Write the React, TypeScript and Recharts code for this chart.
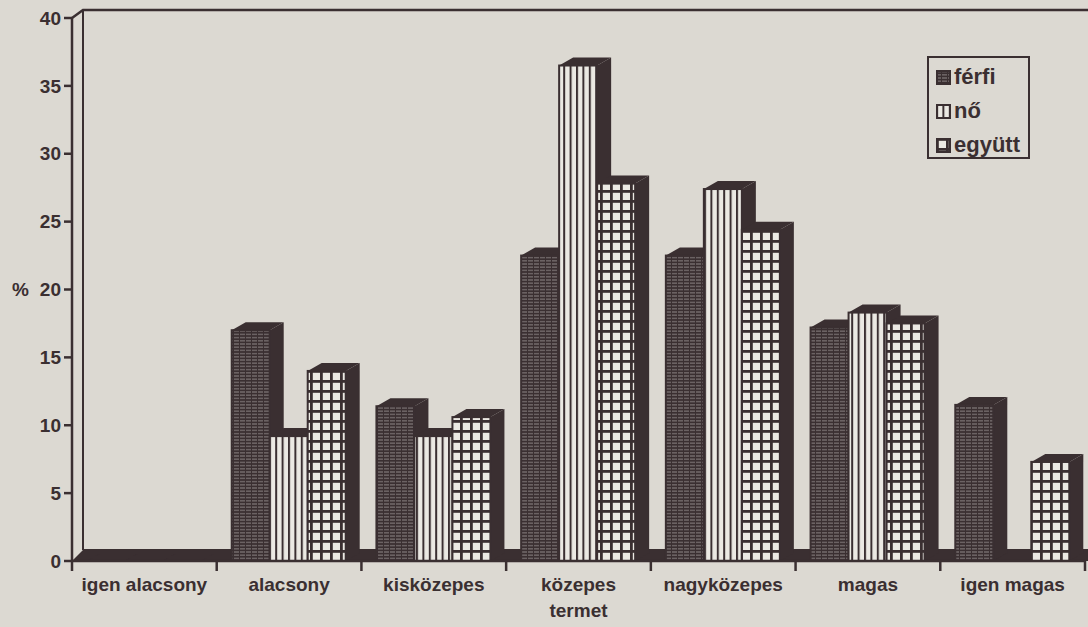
import { BarChart, Bar, XAxis, YAxis, Legend, Label } from 'recharts'

// ─── Data ─────────────────────────────────────────────────────────────────────

const categories = ['igen alacsony', 'alacsony', 'kisközepes', 'közepes', 'nagyközepes', 'magas', 'igen magas']
const ferfi  = [0, 17.0, 11.4, 22.5, 22.5, 17.2, 11.5]
const no     = [0, 9.2, 9.2, 36.5, 27.4, 18.3, 0]
const egyutt = [0, 14.0, 10.6, 27.8, 24.4, 17.5, 7.3]
const yTicks = [0, 5, 10, 15, 20, 25, 30, 35, 40]

const series = [
  { key: 'ferfi',  name: 'férfi',  pattern: 'pat-ferfi' },
  { key: 'no',     name: 'nő',     pattern: 'pat-no' },
  { key: 'egyutt', name: 'együtt', pattern: 'pat-egyutt' },
]

const data = categories.map((label, i) => ({
  label,
  ferfi:  ferfi[i],
  no:     no[i],
  egyutt: egyutt[i],
}))

// ─── Look ─────────────────────────────────────────────────────────────────────

const PAPER = '#dcd9d2'
const LIGHT = '#ebe9e3'
const INK   = '#3a2f31'
const FONT  = '"Liberation Sans", Arial, sans-serif'

const W = 1088
const H = 627
const PLOT_LEFT   = 72
const PLOT_RIGHT  = 1085
const PLOT_TOP    = 18
const PLOT_BOTTOM = 561
const BAND = (PLOT_RIGHT - PLOT_LEFT) / categories.length

const DX = 14 // 3d depth
const DY = 8

const TEXT_STYLE = { fill: INK, fontSize: 19, fontWeight: 'bold', fontFamily: FONT }

function Bar3D(props: any) {
  const { x, y, width, height, pattern } = props
  if (x == null || y == null) return null
  const w = width
  const h = Math.max(0, height)
  const top = `${x},${y} ${x + DX},${y - DY} ${x + w + DX},${y - DY} ${x + w},${y}`
  const side = `${x + w},${y} ${x + w + DX},${y - DY} ${x + w + DX},${y + h - DY} ${x + w},${y + h}`
  return (
    <g>
      <polygon points={top} fill={INK} />
      <polygon points={side} fill={INK} />
      {h > 0 && (
        <rect x={x} y={y} width={w} height={h} fill={`url(#${pattern})`} stroke={INK} strokeWidth={2} />
      )}
    </g>
  )
}

function CategoryTick(props: any) {
  const { x, payload, index } = props
  return (
    <g>
      {index === 0 && (
        <line x1={x - BAND / 2} y1={PLOT_BOTTOM} x2={x - BAND / 2} y2={PLOT_BOTTOM + 10} stroke={INK} strokeWidth={2.5} />
      )}
      <line x1={x + BAND / 2} y1={PLOT_BOTTOM} x2={x + BAND / 2} y2={PLOT_BOTTOM + 10} stroke={INK} strokeWidth={2.5} />
      <text x={x} y={PLOT_BOTTOM + 30} textAnchor="middle" {...TEXT_STYLE}>
        {payload.value}
      </text>
    </g>
  )
}

function LegendBox() {
  return (
    <div style={{
      boxSizing: 'border-box',
      width: 103,
      height: 103,
      border: `2px solid ${INK}`,
      background: PAPER,
      padding: '2px 0 0 7px',
      fontFamily: FONT,
      fontWeight: 'bold',
      fontSize: 22,
      color: INK,
      lineHeight: '34px',
    }}>
      {series.map(s => (
        <div key={s.key} style={{ display: 'flex', alignItems: 'center' }}>
          <svg width={15} height={15} style={{ marginRight: 3 }}>
            <rect x={1} y={1} width={13} height={13} fill={`url(#${s.pattern})`} stroke={INK} strokeWidth={2} />
          </svg>
          {s.name}
        </div>
      ))}
    </div>
  )
}

export default function App() {
  return (
    <div style={{ position: 'fixed', left: 0, top: 0, width: W, height: H, background: PAPER, overflow: 'hidden' }}>
      {/* back wall, floor and fill patterns */}
      <svg width={W} height={H} style={{ position: 'absolute', left: 0, top: 0 }}>
        <defs>
          <pattern id="pat-ferfi" patternUnits="userSpaceOnUse" width={6} height={3.2}>
            <rect width={6} height={3.2} fill={INK} />
            <rect x={0} y={1.2} width={5} height={0.8} fill={LIGHT} opacity={0.55} />
          </pattern>
          <pattern id="pat-no" patternUnits="userSpaceOnUse" width={6.4} height={10}>
            <rect width={6.4} height={10} fill={LIGHT} />
            <rect x={0} y={0} width={2} height={10} fill={INK} />
          </pattern>
          <pattern id="pat-egyutt" patternUnits="userSpaceOnUse" width={10} height={10}>
            <rect width={10} height={10} fill={LIGHT} />
            <rect x={0} y={0} width={2.8} height={10} fill={INK} />
            <rect x={0} y={0} width={10} height={2.8} fill={INK} />
          </pattern>
        </defs>
        <line x1={83} y1={10} x2={83} y2={550} stroke={INK} strokeWidth={2} />
        <polyline points={`${PLOT_LEFT},${PLOT_TOP} 83,10 ${W},10`} fill="none" stroke={INK} strokeWidth={2.5} />
        <polygon points={`${PLOT_LEFT},${PLOT_BOTTOM} 84,549 ${W},549 ${W},${PLOT_BOTTOM}`} fill={INK} />
      </svg>

      <div style={{ position: 'absolute', left: 0, top: 0 }}>
        <BarChart
          width={W}
          height={H}
          data={data}
          margin={{ top: PLOT_TOP, right: W - PLOT_RIGHT, bottom: 10, left: 12 }}
          barGap={0}
          barSize={38}
        >
          <XAxis
            dataKey="label"
            height={56}
            interval={0}
            tick={<CategoryTick />}
            tickLine={false}
            axisLine={{ stroke: INK, strokeWidth: 2.5 }}
          >
            <Label value="termet" position="insideBottom" offset={0} style={TEXT_STYLE} />
          </XAxis>
          <YAxis
            width={60}
            domain={[0, 40]}
            ticks={yTicks}
            interval={0}
            tickSize={8}
            tickMargin={3}
            axisLine={{ stroke: INK, strokeWidth: 2.5 }}
            tickLine={{ stroke: INK, strokeWidth: 2.5 }}
            tick={TEXT_STYLE}
          >
            <Label value="%" position="insideLeft" offset={0} style={TEXT_STYLE} />
          </YAxis>
          <Legend
            layout="horizontal"
            verticalAlign="middle"
            align="center"
            content={() => <LegendBox />}
            wrapperStyle={{ position: 'absolute', left: 927, top: 56, width: 'auto' }}
          />
          {series.map(s => (
            <Bar
              key={s.key}
              dataKey={s.key}
              name={s.name}
              fill={INK}
              isAnimationActive={false}
              shape={(p: any) => <Bar3D {...p} pattern={s.pattern} />}
            />
          ))}
        </BarChart>
      </div>
    </div>
  )
}
